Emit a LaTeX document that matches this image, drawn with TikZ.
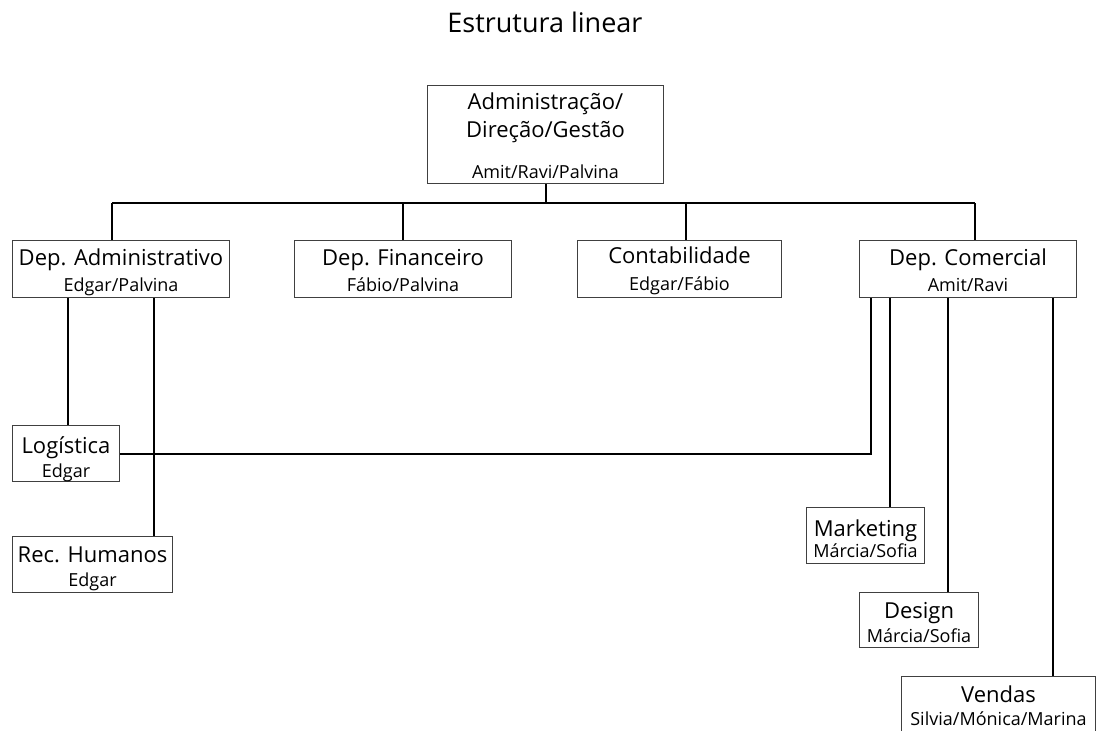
\documentclass[tikz,border=0pt]{standalone}
\usepackage{fontspec}
\setmainfont{Open Sans}
\usetikzlibrary{calc}
\begin{document}
\begin{tikzpicture}[x=1pt,y=-1pt,
  box/.style={draw=black!75, line width=1pt, inner sep=0pt, anchor=north west},
  mtxt/.style={anchor=base, inner sep=0pt, font=\fontsize{22}{24}\selectfont},
  stxt/.style={anchor=base, inner sep=0pt, font=\fontsize{18}{20}\selectfont},
  conn/.style={line width=2pt, black},
  title/.style={anchor=base, inner sep=0pt, font=\fontsize{27}{30}\selectfont}]
\useasboundingbox (0,0) rectangle (1098,731);
\node[title] (ttl) at (545,32) {Estrutura linear};
% boxes
\node[box, minimum width=236, minimum height=98] (top) at (427,85) {};
\node[box, minimum width=217, minimum height=57] (adm) at (12,240) {};
\node[box, minimum width=217, minimum height=57] (fin) at (294,240) {};
\node[box, minimum width=204, minimum height=57] (cont) at (577,240) {};
\node[box, minimum width=217, minimum height=57] (com) at (859,240) {};
\node[box, minimum width=107, minimum height=56] (log) at (12,425) {};
\node[box, minimum width=160, minimum height=56] (rh) at (12,536) {};
\node[box, minimum width=118, minimum height=56] (mkt) at (806,507) {};
\node[box, minimum width=119, minimum height=55] (des) at (859,592) {};
\node[box, minimum width=194, minimum height=62] (ven) at (901,676) {};
% texts
\node[mtxt] (top-m1) at ($(top.north)+(0,24)$) {Administração/};
\node[mtxt] (top-m2) at ($(top.north)+(0,52)$) {Direção/Gestão};
\node[stxt] (top-s) at ($(top.north)+(0,93)$) {Amit/Ravi/Palvina};
\node[mtxt] (adm-m) at ($(adm.north)+(0,25)$) {Dep. Administrativo};
\node[stxt] (adm-s) at ($(adm.north)+(0,51)$) {Edgar/Palvina};
\node[mtxt] (fin-m) at ($(fin.north)+(0,25)$) {Dep. Financeiro};
\node[stxt] (fin-s) at ($(fin.north)+(0,51)$) {Fábio/Palvina};
\node[mtxt] (cont-m) at ($(cont.north)+(0,23)$) {Contabilidade};
\node[stxt] (cont-s) at ($(cont.north)+(0,50)$) {Edgar/Fábio};
\node[mtxt] (com-m) at ($(com.north)+(0,25)$) {Dep. Comercial};
\node[stxt] (com-s) at ($(com.north)+(0,51)$) {Amit/Ravi};
\node[mtxt] (log-m) at ($(log.north)+(0,28)$) {Logística};
\node[stxt] (log-s) at ($(log.north)+(0,52)$) {Edgar};
\node[mtxt] (rh-m) at ($(rh.north)+(0,26)$) {Rec. Humanos};
\node[stxt] (rh-s) at ($(rh.north)+(0,50)$) {Edgar};
\node[mtxt] (mkt-m) at ($(mkt.north)+(0,29)$) {Marketing};
\node[stxt] (mkt-s) at ($(mkt.north)+(0,50)$) {Márcia/Sofia};
\node[mtxt] (des-m) at ($(des.north)+(0,26)$) {Design};
\node[stxt] (des-s) at ($(des.north)+(0,50)$) {Márcia/Sofia};
\node[mtxt] (ven-m) at ($(ven.north)+(0,26)$) {Vendas};
\node[stxt] (ven-s) at ($(ven.north)+(0,49)$) {Silvia/Mónica/Marina};
% bus
\coordinate (busL) at (112,203);
\coordinate (busR) at (975,203);
\coordinate (busC) at (686,203);
\draw[conn] (busL) -- (busR);
\draw[conn] (top.south) -- (top.south |- busL);
\draw[conn] (busL) -- (busL |- adm.north);
\draw[conn] (fin.north |- busL) -- (fin.north);
\draw[conn] (busC) -- (busC |- cont.north);
\draw[conn] (busR) -- (busR |- com.north);
% admin branches
\coordinate (xa1) at (68,0);
\coordinate (xa2) at (154,0);
\draw[conn] (xa1 |- adm.south) -- (xa1 |- log.north);
\draw[conn] (xa2 |- adm.south) -- (xa2 |- rh.north);
% commercial branches
\coordinate (xc1) at (871,0);
\coordinate (xc2) at (890,0);
\coordinate (xc3) at (948,0);
\coordinate (xc4) at (1053,0);
\draw[conn] (xc1 |- com.south) -- (xc1 |- log.east) -- (log.east);
\draw[conn] (xc2 |- com.south) -- (xc2 |- mkt.north);
\draw[conn] (xc3 |- com.south) -- (xc3 |- des.north);
\draw[conn] (xc4 |- com.south) -- (xc4 |- ven.north);
\end{tikzpicture}
\end{document}
